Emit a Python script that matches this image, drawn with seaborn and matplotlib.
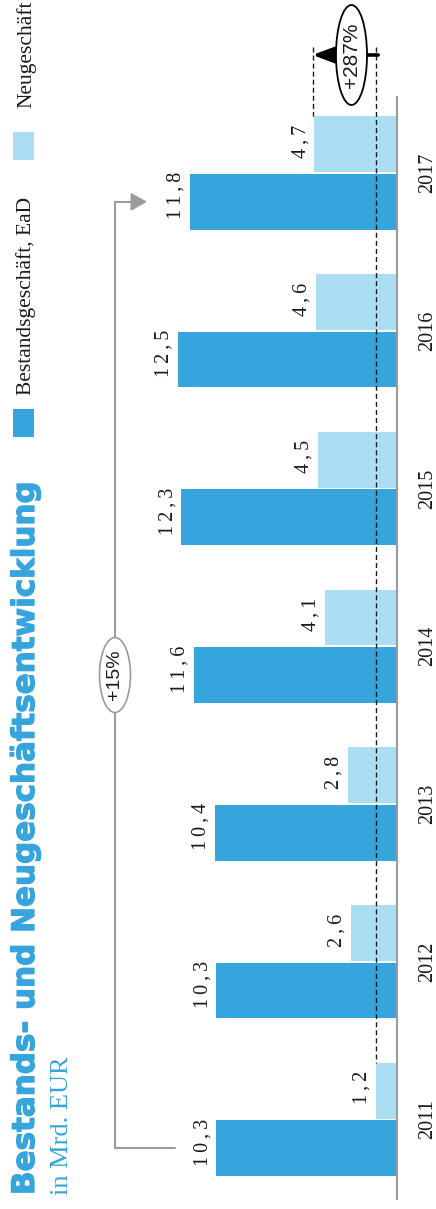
import matplotlib
matplotlib.use("Agg")
import matplotlib.pyplot as plt
from matplotlib.patches import Ellipse, Rectangle
import matplotlib.patheffects as pe
import pandas as pd
import seaborn as sns

# --- data -------------------------------------------------------------
years = ["2011", "2012", "2013", "2014", "2015", "2016", "2017"]
bestand = [10.3, 10.3, 10.4, 11.6, 12.3, 12.5, 11.8]
neu = [1.2, 2.6, 2.8, 4.1, 4.5, 4.6, 4.7]
series = ["Bestandsgeschäft, EaD", "Neugeschäft"]
growth_bestand = "+15%"
growth_neu = "+287%"
title = "Bestands- und Neugeschäftsentwicklung"
subtitle = "in Mrd. EUR"

# --- style ------------------------------------------------------------
DARK = "#36A4DD"
LIGHT = "#ABDDF3"
GREY = "#9B9B9B"
SERIF = ["Liberation Serif", "DejaVu Serif"]
SANS = ["Liberation Sans", "DejaVu Sans"]

sns.set_style("white")
plt.rcParams["font.family"] = SERIF

W, H = 436, 1209
fig = plt.figure(figsize=(W / 100, H / 100), dpi=100)
ax = fig.add_axes([0, 0, 1, 1])

# The chart is laid out sideways: values grow to the left, years run upward.
ZERO_PX = 396.5      # pixel column of the value axis origin
PX_PER_UNIT = 17.5   # horizontal pixels per Mrd. EUR
TOP_PX = 173.0       # pixel row of the first (top) year group
PITCH = 157.75       # pixel distance between year groups
BAR_W = 0.73
OFF = BAR_W / 4      # offset of each dodged bar from its group centre


def vx(px):
    return (ZERO_PX - px) / PX_PER_UNIT


def vy(py):
    return (py - TOP_PX) / PITCH


df = pd.DataFrame({
    "Jahr": years * 2,
    "Reihe": [series[0]] * len(years) + [series[1]] * len(years),
    "Wert": bestand + neu,
})
order = years[::-1]
hue_order = [series[1], series[0]]

sns.barplot(
    data=df, x="Wert", y="Jahr", hue="Reihe", order=order, hue_order=hue_order,
    palette={series[0]: DARK, series[1]: LIGHT}, orient="h", width=BAR_W,
    gap=0.03, saturation=1, errorbar=None, legend=False, linewidth=0, ax=ax,
)

ax.set_xlim(vx(0), vx(W))
ax.set_ylim(vy(H), vy(0))
ax.axis("off")

# value axis line
ax.plot([0, 0], [vy(96), vy(1200)], color=GREY, lw=1.5, zorder=5,
        solid_capstyle="butt")


def fmt(v):
    s = f"{v:.1f}".replace(".", ",")
    return "\u2009".join(s)


# value labels
for yr, b, n in zip(years, bestand, neu):
    p = order.index(yr)
    for val, pos in ((b, p + OFF), (n, p - OFF)):
        txt = fmt(val)
        shift = 6 if len(f"{val:.1f}") == 4 else 3
        ax.annotate(txt, xy=(val, pos), xytext=(-9, shift),
                    textcoords="offset pixels", rotation=90,
                    rotation_mode="anchor", ha="center", va="baseline",
                    fontsize=14.5, family=SERIF, color="#1a1a1a")

# year labels
for yr in years:
    ax.text(432 / W, order.index(yr), yr, transform=ax.get_yaxis_transform(),
            rotation=90, rotation_mode="anchor", ha="center", va="baseline",
            fontsize=14.5, family=SERIF, color="#1a1a1a")

# growth bracket for the portfolio business
p_first = order.index(years[0]) + OFF
p_last = order.index(years[-1]) + OFF
bx = vx(115)
ax.plot([vx(175), bx, bx, vx(135)], [p_first, p_first, p_last, p_last],
        color=GREY, lw=1.5, solid_joinstyle="miter", zorder=3)
ax.annotate("", xy=(vx(147), p_last), xytext=(vx(134), p_last),
            arrowprops=dict(arrowstyle="-|>,head_length=0.48,head_width=0.27",
                            mutation_scale=20, color=GREY, lw=1.5,
                            shrinkA=0, shrinkB=0), zorder=3)
ey = vy(675)
ax.add_patch(Ellipse((bx, ey), width=31 / PX_PER_UNIT, height=75 / PITCH,
                     facecolor="white", edgecolor=GREY, lw=1.2, zorder=4))
ax.text(bx, ey, growth_bestand, rotation=90, ha="center", va="center",
        fontsize=14, family=SANS, color="#1a1a1a", zorder=5)

# growth marker for new business
n_first, n_last = neu[0], neu[-1]
top_p = vy(47)
dash = dict(color="#1a1a1a", lw=1.0, dashes=(3.6, 2.2), zorder=6)
ax.plot([n_first, n_first], [top_p, order.index(years[0]) - OFF - (BAR_W / 2 - 0.01) / 2], **dash)
ax.plot([n_last + 0.1, n_last + 0.1], [top_p, order.index(years[-1]) - OFF - (BAR_W / 2 - 0.01) / 2], **dash)
ay = vy(55)
ax.annotate("", xy=(n_last + 0.1, ay), xytext=(n_first - 0.15, ay),
            arrowprops=dict(arrowstyle="-|>,head_length=0.8,head_width=0.3",
                            mutation_scale=20, color="black", lw=2.6,
                            shrinkA=0, shrinkB=0), zorder=6)
ex = vx(351.5)
ax.add_patch(Ellipse((ex, ay), width=31 / PX_PER_UNIT, height=100 / PITCH,
                     facecolor="white", edgecolor="black", lw=1.3, zorder=7))
ax.text(ex, ay, growth_neu, rotation=90, ha="center", va="center",
        fontsize=15, family=SANS, color="#1a1a1a", zorder=8)

# title block
fig.text(34 / W, 1 - 1195 / H, title, rotation=90, rotation_mode="anchor",
         ha="left", va="baseline", fontsize=22.3, fontweight="bold",
         family=["DejaVu Sans"], color=DARK,
         path_effects=[pe.withStroke(linewidth=0.9, foreground=DARK)])
fig.text(68 / W, 1 - 1195 / H, subtitle, rotation=90, rotation_mode="anchor",
         ha="left", va="baseline", fontsize=19, family=SERIF, color=DARK)

# legend
for (y0, y1), col, label, start in (((409, 437), DARK, series[0], 395),
                                    ((132, 160), LIGHT, series[1], 108)):
    fig.add_artist(Rectangle((13 / W, 1 - y1 / H), 21 / W, (y1 - y0) / H,
                             transform=fig.transFigure, color=col, lw=0))
    fig.text(31 / W, 1 - start / H, label, rotation=90, rotation_mode="anchor",
             ha="left", va="baseline", fontsize=15.5, family=SERIF,
             color="#1a1a1a")

fig.savefig("out.png", dpi=100)
